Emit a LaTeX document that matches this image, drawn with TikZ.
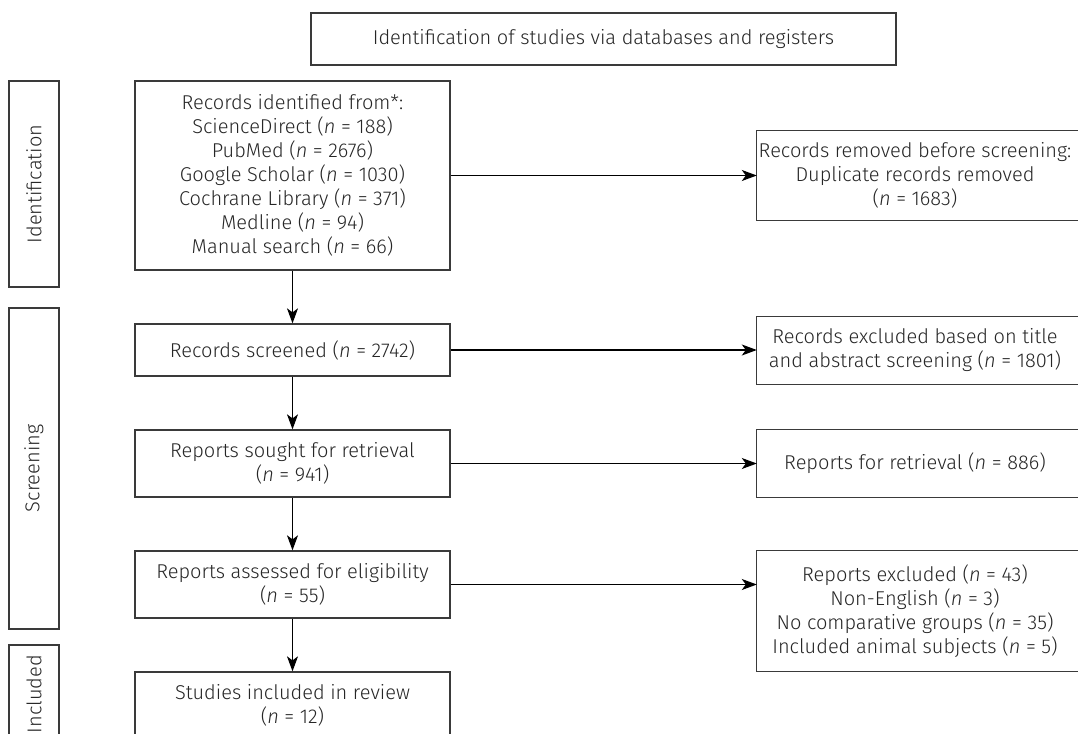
\documentclass[tikz,border=0pt]{standalone}
\usepackage{fontspec}
\setmainfont{Fira Sans}[UprightFont=* Light, ItalicFont=* Light Italic]
\usetikzlibrary{arrows.meta}
\definecolor{ink}{HTML}{262626}
\definecolor{frame}{HTML}{3A3A3A}
\begin{document}
\begin{tikzpicture}[x=1pt,y=-1pt,
  every node/.style={font=\fontsize{20}{24}\selectfont, text=ink, inner sep=0pt, align=center},
  box/.style={draw=frame, line width=1.3pt, minimum width=315pt},
  rbox/.style={minimum width=316pt},
  side/.style={draw=frame, line width=1.3pt, rotate=90, minimum height=50pt},
  frm/.style={draw=frame, line width=1.3pt},
  arr/.style={draw=black, line width=1.2pt, -{Stealth[length=15pt,width=11pt,inset=4pt]}}
]
\clip (0,0) rectangle (1078,733);
\fill[white] (0,0) rectangle (1078,733);

% title
\node[box, minimum width=585pt, minimum height=52pt] (title) at (603.5,39) {Identification of studies via databases and registers};

% side labels
\node[side, minimum width=206pt] (sid) at (34,184) {Identification};
\node[side, minimum width=321pt] (sscr) at (34,468.5) {Screening};
\node[side, minimum width=98pt] (sinc) at (34,694) {Included};

% main column
\node[box, minimum height=189pt] (b1) at (292.5,175.5) {Records identified from*:\\ ScienceDirect (\textit{n} = 188)\\ PubMed (\textit{n} = 2676)\\ Google Scholar (\textit{n} = 1030)\\ Cochrane Library (\textit{n} = 371)\\ Medline (\textit{n} = 94)\\ Manual search (\textit{n} = 66)};
\node[box, minimum height=52pt] (b2) at (292.5,350) {Records screened (\textit{n} = 2742)};
\node[box, minimum height=67pt] (b3) at (292.5,463.5) {Reports sought for retrieval\\ (\textit{n} = 941)};
\node[box, minimum height=67pt] (b4) at (292.5,584.5) {Reports assessed for eligibility\\ (\textit{n} = 55)};
\node[box, minimum height=67pt] (b5) at (292.5,705.5) {Studies included in review\\ (\textit{n} = 12)};

% right column
\node[rbox, minimum height=89pt] (r1) at (915,175.5) {Records removed before screening:\\ Duplicate records removed\\ (\textit{n} = 1683)};
\node[rbox, minimum height=67pt] (r2) at (915,350.5) {Records excluded based on title\\ and abstract screening (\textit{n} = 1801)};
\node[rbox, minimum height=67pt] (r3) at (915,463.5) {Reports for retrieval (\textit{n} = 886)};
\node[rbox, minimum height=120pt] (r4) at (915,611) {Reports excluded (\textit{n} = 43)\\ Non-English (\textit{n} = 3)\\ No comparative groups (\textit{n} = 35)\\ Included animal subjects (\textit{n} = 5)};
\foreach \r in {r1,r2,r3,r4}
  \draw[frm] (\r.south west) rectangle ([xshift=30pt]\r.north east);

% arrows
\draw[arr] (b1) -- (b2);
\draw[arr] (b2) -- (b3);
\draw[arr] (b3) -- (b4);
\draw[arr] (b4) -- (b5);
\draw[arr] (b1.east) -- (r1.west);
\draw[arr] (b2.east) -- (b2.east -| r2.west);
\draw[arr] (b3.east) -- (r3.west);
\draw[arr] (b4.east) -- (b4.east -| r4.west);
\end{tikzpicture}
\end{document}
